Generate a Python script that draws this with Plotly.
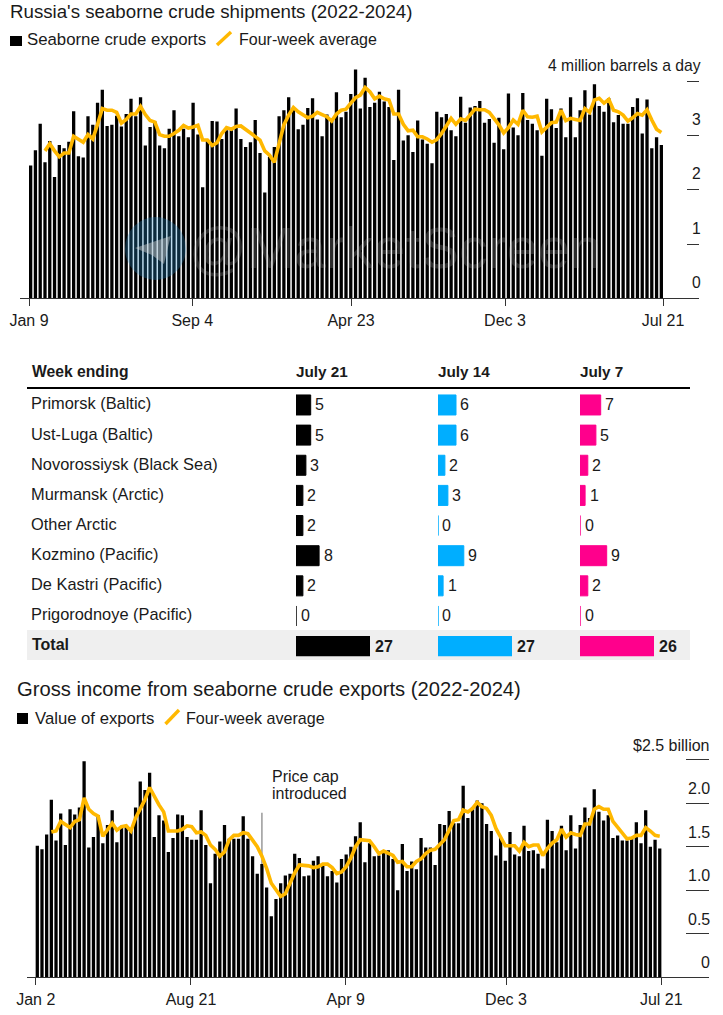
import plotly.graph_objects as go

W = 723
H = 1015

# million barrels a day, one bar per week, Jan 9 2022 - Jul 21 2024
shipments = [2.45,2.73,3.22,2.51,2.90,2.24,2.83,2.77,2.89,3.45,2.62,2.60,3.36,3.20,3.61,3.85,3.18,3.20,3.37,3.17,
    3.40,3.68,3.36,3.71,2.82,3.16,3.26,2.82,2.77,3.13,3.47,2.99,3.13,2.97,3.61,3.02,2.05,2.93,3.27,3.26,
    2.94,3.10,3.10,3.50,2.94,2.79,2.88,3.29,2.68,1.95,2.61,2.79,3.36,3.47,3.71,3.50,3.12,3.20,3.51,3.69,
    3.30,2.99,3.39,3.32,3.80,3.34,3.44,3.77,4.22,3.50,4.07,3.53,3.61,3.81,3.63,3.53,2.55,3.85,2.91,3.01,
    2.70,3.28,2.93,2.85,2.49,3.44,3.34,3.40,3.10,2.99,3.72,3.24,3.52,3.55,3.64,3.24,3.31,2.87,3.33,2.75,
    3.78,3.15,3.01,3.79,3.29,3.22,3.10,2.63,3.68,3.49,3.14,3.50,2.97,3.71,2.97,3.47,3.84,3.39,3.95,3.55,
    3.44,3.69,3.25,3.38,3.22,3.22,3.53,3.69,3.04,3.67,2.77,2.97,2.83]
# four-week average starts at the 4th week
shipments_avg = [2.72,2.85,2.72,2.61,2.68,2.68,2.99,2.94,2.88,3.02,2.94,3.21,3.50,3.47,3.47,3.43,3.23,3.30,3.40,3.40,
    3.54,3.39,3.28,3.25,3.02,2.99,2.99,3.04,3.10,3.19,3.14,3.16,3.19,2.92,2.92,2.82,2.87,3.04,3.15,3.12,
    3.17,3.18,3.12,3.04,2.98,2.92,2.72,2.64,2.51,2.83,3.20,3.38,3.52,3.44,3.38,3.33,3.36,3.43,3.39,3.35,
    3.27,3.40,3.47,3.49,3.60,3.70,3.75,3.89,3.81,3.68,3.73,3.68,3.66,3.40,3.40,3.21,3.09,3.10,2.98,2.98,
    2.94,2.88,2.93,3.04,3.18,3.32,3.21,3.31,3.28,3.38,3.49,3.48,3.48,3.43,3.32,3.20,3.05,3.15,3.29,3.21,
    3.47,3.35,3.34,3.36,3.07,3.16,3.24,3.25,3.47,3.28,3.32,3.30,3.28,3.50,3.43,3.66,3.69,3.60,3.67,3.47,
    3.44,3.38,3.27,3.33,3.41,3.38,3.48,3.29,3.12,3.06]
ship_tick_pos = [-0.34, 33.83, 67.05, 99.28, 132.35]
ship_tick_text = ["Jan 9", "Sep 4", "Apr 23", "Dec 3", "Jul 21"]
ship_y_ticks = [0, 1, 2, 3, 4]
ship_y_text = ["0", "1", "2", "3", "4 million barrels a day"]

# billion dollars, one bar per week, Jan 2 2022 - Jul 21 2024
income = [1.51,1.47,1.64,2.04,1.57,1.88,1.52,1.93,1.87,1.95,2.48,1.49,1.61,1.86,1.54,1.75,1.92,1.55,1.74,1.74,
    1.69,1.95,2.25,2.15,2.35,1.61,1.86,1.80,1.44,1.60,1.87,1.86,1.61,1.58,1.58,1.92,1.52,1.08,1.42,1.56,
    1.75,1.59,1.59,1.59,1.85,1.59,1.39,1.19,1.30,1.03,0.70,0.90,1.08,1.17,1.19,1.42,1.37,1.16,1.17,1.34,
    1.39,1.29,1.16,1.22,1.09,1.36,1.41,1.50,1.62,1.78,1.32,1.54,1.39,1.40,1.44,1.46,1.36,1.00,1.53,1.22,
    1.33,1.24,1.60,1.49,1.49,1.29,1.76,1.75,1.91,1.77,1.77,2.20,1.83,1.95,2.03,2.00,1.76,1.68,1.40,1.60,
    1.34,1.67,1.41,1.39,1.74,1.45,1.46,1.42,1.25,1.81,1.68,1.55,1.74,1.46,1.86,1.48,1.75,1.95,1.83,2.16,
    1.90,1.80,1.86,1.60,1.63,1.57,1.57,1.59,1.78,1.54,1.92,1.50,1.58,1.48]
income_avg = [1.67,1.68,1.79,1.75,1.72,1.79,1.81,2.06,1.93,1.88,1.85,1.62,1.69,1.77,1.69,1.73,1.74,1.68,1.83,1.94,
    2.04,2.18,2.07,1.98,1.90,1.68,1.68,1.68,1.70,1.74,1.73,1.66,1.67,1.63,1.52,1.47,1.39,1.44,1.58,1.63,
    1.63,1.66,1.65,1.58,1.50,1.39,1.25,1.08,1.00,0.93,0.96,1.08,1.20,1.29,1.29,1.28,1.26,1.27,1.30,1.30,
    1.26,1.19,1.21,1.27,1.37,1.50,1.58,1.57,1.57,1.50,1.42,1.45,1.43,1.40,1.32,1.33,1.27,1.27,1.33,1.36,
    1.42,1.46,1.47,1.52,1.58,1.69,1.80,1.81,1.92,1.90,1.94,2.01,1.96,1.94,1.86,1.71,1.62,1.51,1.51,1.51,
    1.45,1.55,1.50,1.52,1.52,1.40,1.48,1.54,1.58,1.70,1.61,1.66,1.64,1.63,1.76,1.76,1.93,1.96,1.93,1.93,
    1.79,1.72,1.65,1.59,1.60,1.63,1.63,1.72,1.68,1.63,1.62]
inc_tick_pos = [-0.34, 32.84, 65.9, 100.15, 133.33]
inc_tick_text = ["Jan 2", "Aug 21", "Apr 9", "Dec 3", "Jul 21"]
inc_y_ticks = [0, 0.5, 1.0, 1.5, 2.0, 2.5]
inc_y_text = ["0", "0.5", "1.0", "1.5", "2.0", "$2.5 billion"]
cap_week = 48
cap_top = 1.89

# table
ports = ["Primorsk (Baltic)", "Ust-Luga (Baltic)", "Novorossiysk (Black Sea)", "Murmansk (Arctic)",
         "Other Arctic", "Kozmino (Pacific)", "De Kastri (Pacific)", "Prigorodnoye (Pacific)"]
weeks = ["July 21", "July 14", "July 7"]
week_vals = [
    [4.9, 4.9, 3.3, 2.3, 2.3, 7.7, 2.3, 0],
    [6.0, 6.0, 2.3, 3.3, 0, 8.6, 1.7, 0],
    [6.9, 5.3, 2.6, 1.7, 0, 8.9, 2.6, 0],
]
week_labels = [
    [5, 5, 3, 2, 2, 8, 2, 0],
    [6, 6, 2, 3, 0, 9, 1, 0],
    [7, 5, 2, 1, 0, 9, 2, 0],
]
totals = [27, 27, 26]
total_bars = [27, 27, 27]
week_colors = ["#000000", "#00AEFF", "#FF008C"]

BLACK = "#000000"
INK = "#1a1a1a"
GOLD = "#FFB800"
FONT = "Liberation Sans"


def px(x):
    return x / W


def py(y):
    return 1 - y / H


def text(x, y, s, size=16, anchor="left", bold=False, vanchor="middle"):
    return dict(text="<b>%s</b>" % s if bold else s, x=px(x), y=py(y), xref="paper", yref="paper",
                xanchor=anchor, yanchor=vanchor, showarrow=False, align=anchor, borderpad=0,
                font=dict(size=size, color=INK, family=FONT))


def rect(x0, y0, x1, y1, color):
    return dict(type="rect", xref="paper", yref="paper", x0=px(x0), x1=px(x1), y0=py(y0), y1=py(y1),
                fillcolor=color, line_width=0, layer="below")


def stroke(x0, y0, x1, y1):
    return dict(type="line", xref="paper", yref="paper", x0=px(x0), x1=px(x1), y0=py(y0), y1=py(y1),
                line=dict(color=GOLD, width=3.4))


fig = go.Figure()
annotations = []
shapes = []

# top chart
fig.add_trace(go.Bar(x=list(range(len(shipments))), y=shipments, width=0.69, marker_color=BLACK, marker_line_width=0))
fig.add_trace(go.Scatter(x=list(range(3, 3 + len(shipments_avg))), y=shipments_avg, mode="lines",
                         line=dict(color=GOLD, width=3.6)))
# bottom chart
fig.add_trace(go.Bar(x=list(range(len(income))), y=income, width=0.70, marker_color=BLACK, marker_line_width=0,
                     xaxis="x2", yaxis="y2"))
fig.add_trace(go.Scatter(x=list(range(3, 3 + len(income_avg))), y=income_avg, mode="lines",
                         line=dict(color=GOLD, width=3.6), xaxis="x2", yaxis="y2"))

# table bars, rows on x3-x5, total row on x6-x8
col_x = [296, 438, 580]
rows = list(range(len(ports)))
total_row = len(ports)
for i in range(3):
    xa = "x%d" % (i + 3)
    xb = "x%d" % (i + 6)
    fig.add_trace(go.Bar(y=rows, x=week_vals[i], orientation="h", width=0.664, xaxis=xa, yaxis="y3",
                         marker=dict(color=week_colors[i], line=dict(color=week_colors[i], width=1))))
    fig.add_trace(go.Bar(y=[total_row], x=[total_bars[i]], orientation="h", width=0.664, xaxis=xb, yaxis="y3",
                         marker=dict(color=week_colors[i], line_width=0)))
    for r in rows:
        annotations.append(dict(text=str(week_labels[i][r]), x=week_vals[i][r], y=r, xref=xa, yref="y3",
                                xanchor="left", yanchor="middle", xshift=3.5, showarrow=False, borderpad=0,
                                font=dict(size=16, color=INK, family=FONT)))
    annotations.append(dict(text="<b>%d</b>" % totals[i], x=total_bars[i], y=total_row, xref=xb, yref="y3",
                            xanchor="left", yanchor="middle", xshift=3.5, showarrow=False, borderpad=0,
                            font=dict(size=16, color=INK, family=FONT)))

# titles and keys
annotations.append(text(8.5, 11, "Russia's seaborne crude shipments (2022-2024)", size=18.7))
annotations.append(text(26, 40, "Seaborne crude exports", size=16.8))
annotations.append(text(238, 40, "Four-week average", size=16))
shapes.append(rect(10, 36, 22, 46, BLACK))
shapes.append(stroke(217, 45, 231, 32))

annotations.append(text(15.5, 689, "Gross income from seaborne crude exports (2022-2024)", size=20.2))
annotations.append(text(34, 718, "Value of exports", size=16.7))
annotations.append(text(185, 718, "Four-week average", size=16.1))
shapes.append(rect(17, 713, 28, 724, BLACK))
shapes.append(stroke(165.5, 724, 179, 710))

# y labels sit above their ticks
for v, s in zip(ship_y_ticks, ship_y_text):
    annotations.append(dict(text=s, x=px(701.5), xref="paper", y=v, yref="y", xanchor="right", yanchor="bottom",
                            yshift=6.5, showarrow=False, borderpad=0, font=dict(size=15.7, color=INK, family=FONT)))
for v, s in zip(inc_y_ticks, inc_y_text):
    annotations.append(dict(text=s, x=px(710.5), xref="paper", y=v, yref="y2", xanchor="right", yanchor="bottom",
                            yshift=5, showarrow=False, borderpad=0, font=dict(size=16, color=INK, family=FONT)))

# price cap note
shapes.append(dict(type="line", xref="x2", yref="y2", x0=cap_week, x1=cap_week, y0=0, y1=cap_top,
                   line=dict(color="#666666", width=1), layer="below"))
annotations.append(text(270.5, 776.7, "Price cap"))
annotations.append(text(270.5, 793.3, "introduced"))

# table furniture
shapes.append(rect(27, 630, 690, 660, "#EFEFEF"))
shapes.append(dict(type="line", xref="paper", yref="paper", x0=px(27), x1=px(690), y0=py(388), y1=py(388),
                   line=dict(color=BLACK, width=2)))
annotations.append(text(30.5, 371.5, "Week ending", size=15.7, bold=True))
for x, s in zip(col_x, weeks):
    annotations.append(text(x - 1, 371.5, s, size=15.3, bold=True))
for r, s in enumerate(ports):
    annotations.append(dict(text=s, x=px(30), xref="paper", y=r, yref="y3", xanchor="left", yanchor="middle",
                            yshift=1.5, showarrow=False, borderpad=0, font=dict(size=16.4, color=INK, family=FONT)))
annotations.append(dict(text="<b>Total</b>", x=px(30.5), xref="paper", y=total_row, yref="y3", xanchor="left",
                        yanchor="middle", yshift=2, showarrow=False, borderpad=0,
                        font=dict(size=16, color=INK, family=FONT)))

# stamp across the top chart
shapes.append(dict(type="circle", xref="paper", yref="paper", x0=px(125), x1=px(186), y0=py(217), y1=py(280),
                   fillcolor="rgba(40,140,200,0.30)", line_width=0))
shapes.append(dict(type="path", xref="paper", yref="paper",
                   path="M %.4f %.4f L %.4f %.4f L %.4f %.4f L %.4f %.4f Z" % (
                       px(135), py(248), px(170.7), py(236), px(164), py(264), px(152), py(255)),
                   fillcolor="rgba(210,210,210,0.45)", line_width=0))
annotations.append(text(188, 248, "@MarketScreen", size=57))
annotations[-1]["font"]["color"] = "rgba(190,190,190,0.22)"


def chart_x(left, right, first_center, pitch, anchor, tickvals, ticktext):
    return dict(domain=[px(left), px(right)], range=[(left - first_center) / pitch, (right - first_center) / pitch],
                anchor=anchor, tickmode="array", tickvals=tickvals, ticktext=ticktext, ticks="outside", ticklen=7,
                tickcolor="#333333", tickwidth=1, showline=True, linecolor="#333333", linewidth=1, showgrid=False,
                zeroline=False, tickfont=dict(size=16, color=INK, family=FONT))


def chart_y(bottom, top, per_unit, anchor, tickvals, ticklen):
    return dict(domain=[py(bottom), py(top)], range=[0, (bottom - top) / per_unit], anchor=anchor, side="right",
                tickmode="array", tickvals=tickvals, showticklabels=False, ticks="inside", ticklen=ticklen,
                tickcolor="#333333", tickwidth=1, showline=False, showgrid=False, zeroline=False)


layout_axes = dict(
    xaxis=chart_x(20, 699, 30.65, 4.778, "y", ship_tick_pos, ship_tick_text),
    yaxis=chart_y(298.3, 65.2, 54.2, "x", ship_y_ticks, 12),
    xaxis2=chart_x(26.7, 709, 37.3, 4.68, "y2", inc_tick_pos, inc_tick_text),
    yaxis2=chart_y(977.3, 750.9, 87.07, "x2", inc_y_ticks, 23),
    yaxis3=dict(domain=[py(661.2), py(389.9)], range=[8.5, -0.5], visible=False, anchor="x3"),
)
for i in range(3):
    layout_axes["xaxis%d" % (i + 3)] = dict(domain=[px(col_x[i]), px(col_x[i] + 120)], range=[0, 40], visible=False,
                                            anchor="y3")
    layout_axes["xaxis%d" % (i + 6)] = dict(domain=[px(col_x[i]), px(col_x[i] + 120)], range=[0, 120 * 27 / 74],
                                            visible=False, anchor="y3")

fig.update_layout(width=W, height=H, margin=dict(l=0, r=0, t=0, b=0, autoexpand=False), paper_bgcolor="white",
                  plot_bgcolor="rgba(0,0,0,0)", showlegend=False, barmode="overlay", annotations=annotations,
                  shapes=shapes, **layout_axes)

fig.write_html("out.html", config=dict(displayModeBar=False), post_script="document.body.style.margin='0';")
